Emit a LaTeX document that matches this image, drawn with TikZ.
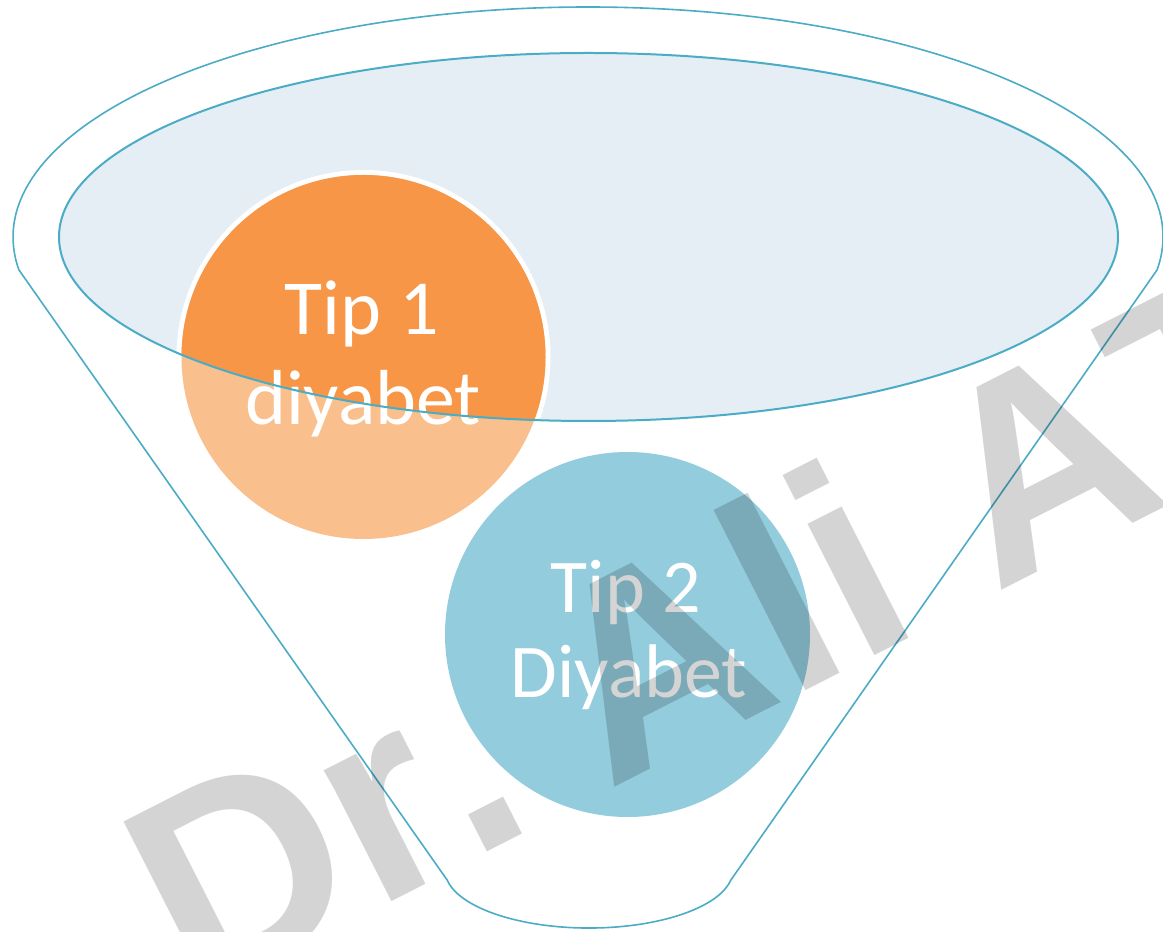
\documentclass[tikz,border=0pt]{standalone}
\usepackage{fontspec}
\setmainfont{Carlito}
\newfontfamily\markfont{Liberation Sans}[Kerning=Off]
\definecolor{rim}{HTML}{4BACC6}
\definecolor{bowl}{HTML}{E5EEF4}
\definecolor{tipone}{HTML}{F79646}
\definecolor{toneLight}{HTML}{F9C08E}
\definecolor{tiptwo}{HTML}{93CCDD}

\begin{document}
\begin{tikzpicture}[x=1pt,y=1pt,
  rimline/.style={draw=rim, line width=1.6pt, line join=round},
  bowlline/.style={draw=rim, line width=2pt},
  bigtext/.style={text=white, inner sep=0pt, anchor=base},
  stamp/.style={text=black, text opacity=0.17, inner sep=0pt, rotate=27, anchor=base west,
    font=\markfont\bfseries\fontsize{279}{300}\selectfont\frenchspacing},
]
\useasboundingbox (0,0) rectangle (1163,932);
\clip (0,0) rectangle (1163,932);
\fill[white] (0,0) rectangle (1163,932);

% funnel body: upper rim arc, two sides and the spout
\draw[rimline] (588,695) ++(-8.25:575 and 230)
  arc[start angle=-8.25, end angle=188.25, x radius=575, y radius=230]
  -- (447.2,51.9)
  arc[start angle=190, end angle=350, x radius=144, y radius=58]
  -- cycle;

% liquid surface
\fill[bowl] (588.5,695) ellipse [x radius=529.5, y radius=184];

% type 1 disc: pale below the surface, full colour inside it
\draw[white, line width=5pt] (363.5,575) circle (184.5);
\fill[toneLight] (363.5,575) circle (182);
\begin{scope}
  \clip (588.5,695) ellipse [x radius=529.5, y radius=184];
  \fill[tipone] (363.5,575) circle (182);
\end{scope}
\node[bigtext, font=\fontsize{78}{86}\selectfont] (t1a) at (362,597) {Tip 1};
\node[bigtext, font=\fontsize{78}{86}\selectfont] (t1b) at (363,507) {diyabet};

% rim of the liquid surface over the disc
\draw[bowlline] (588.5,695) ellipse [x radius=529.5, y radius=184];

% type 2 disc
\fill[tiptwo] (627.5,297.5) circle (182.5);
\node[bigtext, font=\fontsize{76}{84}\selectfont] (t2a) at (626,319) {Tip 2};
\node[bigtext, font=\fontsize{76}{84}\selectfont] (t2b) at (629,234) {Diyabet};

% diagonal stamp across the sheet
\node[stamp] (mark) at (194.4,-69.8) {Dr. Ali AT};
\end{tikzpicture}
\end{document}
